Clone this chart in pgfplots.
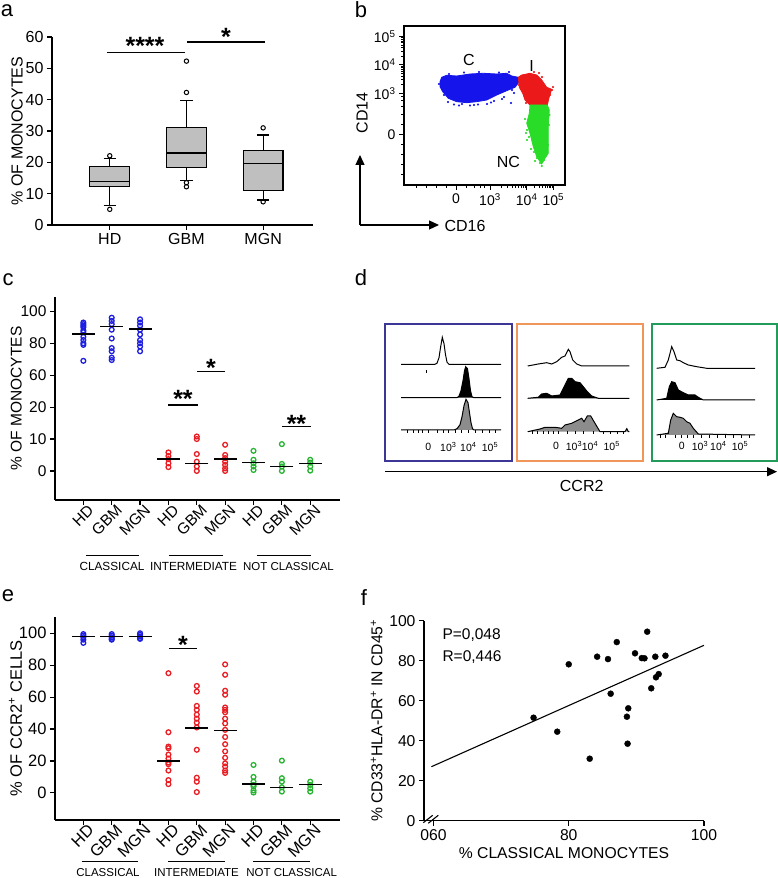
\documentclass[border=0pt]{standalone}
\usepackage{pgfplots}
\pgfplotsset{compat=1.18}
\usepgfplotslibrary{statistics}
\usetikzlibrary{arrows.meta}
\usepackage{fontspec}
\setmainfont{Liberation Sans}
\definecolor{cblue}{RGB}{30,30,225}
\definecolor{cred}{RGB}{232,30,36}
\definecolor{cgreen}{RGB}{40,180,50}
\definecolor{fblue}{RGB}{20,20,235}
\definecolor{fred}{RGB}{235,25,25}
\definecolor{fgreen}{RGB}{40,220,40}
\definecolor{dpurple}{RGB}{60,55,150}
\definecolor{dorange}{RGB}{240,150,90}
\definecolor{dgreen}{RGB}{35,155,90}
\newcommand{\fs}[1]{\fontsize{#1}{#1}\selectfont}
\pgfplotsset{
  base/.style={
    scale only axis, clip=false, anchor=south west,
    /pgf/number format/assume math mode=true,
    axis line style={line width=1.2pt, black},
    tick style={line width=1.2pt, black},
    tick align=outside, major tick length=5pt,
    axis x line*=bottom, axis y line*=left,
  },
  dots/.style={only marks, mark=o, mark size=2.4pt, mark options={line width=1.3pt}},
  med/.style={only marks, mark=-, mark size=11.5pt, mark options={line width=1.5pt, black}},
  hist/.style={line width=1pt, draw=black},
  rotlab/.style={xticklabel style={xshift=10pt, rotate=45, anchor=east}},
}
\begin{document}
\begin{tikzpicture}
\useasboundingbox (0,0) rectangle (778pt,878pt);

% ---------------- panel labels
\node[font=\fs{22}] at (7pt,867pt) {a};
\node[font=\fs{22}] at (361pt,868pt) {b};
\node[font=\fs{22}] at (8pt,598pt) {c};
\node[font=\fs{22}] at (361pt,600pt) {d};
\node[font=\fs{22}] at (8pt,282pt) {e};
\node[font=\fs{22}] at (364pt,280pt) {f};

% ---------------- panel a
\begin{axis}[base, at={(52pt,653pt)}, width=261pt, height=188pt,
  xmin=0.247, xmax=3.65, ymin=0, ymax=60,
  xtick={1,2,3}, xticklabels={HD,GBM,MGN},
  ytick={0,10,...,60},
  font=\fs{16},
  ylabel={\% OF MONOCYTES}, ylabel shift=-4pt,
  boxplot/draw direction=y,
  boxplot/box extend=0.52, boxplot/whisker extend=0.16]
\addplot[boxplot prepared={draw position=1, lower whisker=6.1, lower quartile=12.4,
  median=14, upper quartile=18.6, upper whisker=21.2},
  draw=black, line width=1.2pt, fill=gray!50, mark=o, mark size=2.2pt,
  mark options={fill=white, line width=1pt}] coordinates {(0,5.0) (0,22.1)};
\addplot[boxplot prepared={draw position=2, lower whisker=14.3, lower quartile=18.3,
  median=23, upper quartile=31, upper whisker=39.8},
  draw=black, line width=1.2pt, fill=gray!50, mark=o, mark size=2.2pt,
  mark options={fill=white, line width=1pt}] coordinates {(0,52.3) (0,42.3) (0,13.5) (0,12.2)};
\addplot[boxplot prepared={draw position=3, lower whisker=8.0, lower quartile=10.9,
  median=19.6, upper quartile=23.9, upper whisker=28.7},
  draw=black, line width=1.2pt, fill=gray!50, mark=o, mark size=2.2pt,
  mark options={fill=white, line width=1pt}] coordinates {(0,31) (0,7.4)};
\end{axis}
\draw[line width=1.2pt] (107pt,825.3pt) -- (185pt,825.3pt);
\node[font=\fs{25}\bfseries] at (145pt,831.8pt) {****};
\draw[line width=1.2pt] (187pt,836pt) -- (265pt,836pt);
\node[font=\fs{25}\bfseries] at (226pt,841pt) {*};

% ---------------- panel b
\begin{axis}[scale only axis, anchor=south west, at={(404pt,693pt)},
  width=161pt, height=159pt, xmin=0, xmax=161, ymin=0, ymax=159,
  axis line style={line width=1.5pt},
  tick style={line width=1pt, black}, tick align=outside,
  major tick length=5pt, minor tick length=3pt,
  xtick pos=bottom, ytick pos=left,
  xtick={52,86,122.7,149.3},
  xticklabels={0,10\textsuperscript{3},10\textsuperscript{4},10\textsuperscript{5}},
  ytick={50,91.7,120,148.3},
  yticklabels={0,10\textsuperscript{3},10\textsuperscript{4},10\textsuperscript{5}},
  minor xtick={12,22,32,42,62,70,76,80,97,103.5,108.1,111.7,114.6,117,119.1,121,130.7,135.4,138.7,141.3,143.4,145.2,146.7,148.1},
  minor ytick={10,20,30,40,60,70,78,84,88,100.2,105.2,108.7,111.5,113.7,115.6,117.3,118.7,128.5,133.5,137,139.8,142,143.9,145.6,147},
  font=\fs{14}]
\addplot[fill=fblue, draw=fblue, line width=0.8pt] coordinates {
 (36,103.3) (37.7,107.7) (42.7,109.7) (52.7,109) (66,111) (79.3,111.7) (92.7,111)
 (102.7,111.7) (107.7,109) (114.3,107.7) (115.3,103.3) (111,97.7) (102.7,94.3)
 (92.7,90) (82.7,85) (72.7,83.3) (62.7,82.3) (52.7,83.3) (44.3,86.7) (38.7,93.3)
 (36,98.3) (36,103.3)};
\addplot[only marks, mark=*, mark size=0.9pt, fblue] coordinates {
 (44,83) (50,80.5) (58,81) (66,79.5) (74,80.5) (83,81) (90,84) (98,86) (107,82)
 (110,92) (40,90) (38,96) (35,101) (45,111) (60,112.5) (75,113) (95,112.5) (105,113)
 (112,104) (70,80) (87,82.5) (55,79.5) (100,88) (108,95)};
\addplot[fill=fred, draw=fred, line width=0.8pt] coordinates {
 (114.3,107.7) (117.7,110) (126,111.7) (132.7,110) (137.7,105) (142.7,97.7)
 (147.7,95.7) (145.3,88.3) (143.3,80) (126,80) (121,85) (118.7,91.7) (115.3,97.7)
 (114.3,107.7)};
\addplot[only marks, mark=*, mark size=0.9pt, fred] coordinates {
 (148,95) (146,90) (149,98) (115,100) (119,94) (130,113) (138,108) (141,85) (122,82)
 (117,104) (135,112) (145,93)};
\addplot[fill=fgreen, draw=fgreen, line width=0.8pt] coordinates {
 (126,80) (143.3,80) (145.3,75) (144.3,58.3) (144.3,31.7) (141,26.7) (137.7,21)
 (132.7,28.3) (129.3,38.3) (126,51.7) (122.7,61.7) (125.3,71.7) (126,80)};
\addplot[only marks, mark=*, mark size=0.9pt, fgreen] coordinates {
 (122,52) (123,45) (125,48) (127,36) (130,33) (133,27) (136,22) (137.7,19) (140,25)
 (142,30) (144,40) (145,60) (145.5,70) (128,60) (126,66) (123,55) (121,66) (131,24)};
\node[font=\fs{16}] at (axis cs:65,125) {C};
\node[font=\fs{16}] at (axis cs:127.7,119) {I};
\node[font=\fs{16}] at (axis cs:104.3,22.7) {NC};
\end{axis}
\draw[line width=1.2pt, -{Triangle[length=10pt,width=9pt]}] (360pt,653pt) -- (360pt,723pt);
\draw[line width=1.2pt, -{Triangle[length=10pt,width=9pt]}] (360pt,653pt) -- (439pt,653pt);
\node[font=\fs{16}, anchor=west] at (441pt,652pt) {CD16};
\node[font=\fs{16}, rotate=90] at (362pt,765pt) {CD14};

% ---------------- panel c
\begin{axis}[base, rotlab, at={(55pt,378pt)}, width=285pt, height=203pt,
  xmin=0, xmax=10.05, ymin=-0.91, ymax=5.45,
  y filter/.expression={min(y,20)/10 + max(min(y,60)-20,0)/40 + max(y-60,0)/20},
  ytick={0,1,2,3,4,5}, yticklabels={0,10,20,60,80,100},
  xtick={1,...,9}, xticklabels={HD,GBM,MGN,HD,GBM,MGN,HD,GBM,MGN},
  font=\fs{15.5}, ylabel={\% OF MONOCYTES}, ylabel shift=-8pt]
\addplot[dots, cblue] coordinates {(1,93) (1,92) (1,91) (1,90) (1,88) (1,87) (1,84) (1,82) (1,80) (1,79) (1,69)
 (2,96) (2,94) (2,92) (2,88.5) (2,83) (2,77) (2,75) (2,71) (2,69.5)
 (3,95) (3,93) (3,91) (3,88.5) (3,85.5) (3,82) (3,80) (3,78) (3,75)};
\addplot[dots, cred] coordinates {(4,5.8) (4,4.7) (4,3.7) (4,2.4) (4,1.2)
 (5,10.8) (5,10) (5,5.3) (5,2.9) (5,1.4) (5,0)
 (6,8.2) (6,5) (6,4) (6,2.9) (6,1.9) (6,0.8) (6,0)};
\addplot[dots, cgreen] coordinates {(7,6.3) (7,3.5) (7,2.4) (7,1.4) (7,0.3)
 (8,8.4) (8,2.2) (8,1.4) (8,0)
 (9,3.5) (9,2.6) (9,1.4) (9,0.1)};
\addplot[med] coordinates {(1,85.8) (2,90.6) (3,89) (4,3.8) (5,2.4) (6,3.7) (7,2.6) (8,1.4) (9,2.3)};
\end{axis}
\draw[line width=1.2pt] (168pt,473pt) -- (198pt,473pt);
\node[font=\fs{25}\bfseries] at (183pt,479.5pt) {**};
\draw[line width=1.2pt] (197pt,506.3pt) -- (225pt,506.3pt);
\node[font=\fs{25}\bfseries] at (211pt,510.1pt) {*};
\draw[line width=1.2pt] (282pt,451.3pt) -- (311pt,451.3pt);
\node[font=\fs{25}\bfseries] at (296.5pt,454.5pt) {**};
\draw[line width=1pt] (86pt,322.3pt) -- (139pt,322.3pt);
\draw[line width=1pt] (169pt,322.3pt) -- (223pt,322.3pt);
\draw[line width=1pt] (257pt,322.3pt) -- (311pt,322.3pt);
\node[font=\fs{11.8}] at (112pt,311.3pt) {CLASSICAL};
\node[font=\fs{11.8}] at (193.5pt,311.3pt) {INTERMEDIATE};
\node[font=\fs{11.5}] at (288.5pt,311.3pt) {NOT CLASSICAL};

% ---------------- panel d
\begin{axis}[scale only axis, anchor=south west, at={(385pt,417.3pt)},
  width=126.7pt, height=136.7pt, xmin=0, xmax=126.7, ymin=0, ymax=136.7,
  axis line style={draw=dpurple, line width=2pt}, ticks=none, clip=false]
\addplot[hist] coordinates {(16,96.4) (50,96.4) (52,97.5) (54,103) (55.5,113) (57.3,123.4) (59,117) (60.5,106) (62,98.5) (64,96.4) (116,96.4)};
\addplot[hist, fill=black] coordinates {(16,63) (72,63) (74,64.5) (76,70) (78,80) (79.5,90) (80.7,94) (82.5,92) (84,82) (85.5,70) (87,64) (89,63) (116,63)};
\addplot[hist, fill=black!45] coordinates {(16,30.7) (69,30.7) (72,32) (75,36) (77,44) (79,55) (81,61.4) (83,58) (84.5,48) (86,38) (87.5,32) (89,30.7) (116,30.7)};
\addplot[black, line width=0.8pt] coordinates {(41,88) (41,91)};
\addplot[only marks, mark=|, mark size=1.5pt, black, mark options={line width=0.6pt}] coordinates {(22,29.5) (28,29.5) (33,29.5) (37,29.5) (43,29.5) (52,29.5) (58,29.5) (63,29.5) (70,29.5) (76,29.5) (83,29.5) (90,29.5) (97,29.5) (104,29.5) (110,29.5)};
\node[font=\fs{10.5}] at (axis cs:43.3,14) {0};
\node[font=\fs{10.5}] at (axis cs:63.3,14) {10\textsuperscript{3}};
\node[font=\fs{10.5}] at (axis cs:83.3,14) {10\textsuperscript{4}};
\node[font=\fs{10.5}] at (axis cs:105,14) {10\textsuperscript{5}};
\end{axis}
\begin{axis}[scale only axis, anchor=south west, at={(517.3pt,417.3pt)},
  width=126pt, height=136.7pt, xmin=0, xmax=126, ymin=0, ymax=136.7,
  axis line style={draw=dorange, line width=2pt}, ticks=none, clip=false]
\addplot[hist] coordinates {(10.4,94.7) (21,96.7) (29.4,98) (34.4,96.7) (39.4,99) (44.4,103.4) (47.7,104.7) (51,111.4) (52.7,109) (55.4,100.7) (59.4,96.7) (64.4,94.7) (112,94.7)};
\addplot[hist, fill=black] coordinates {(10.4,62.4) (21,63.4) (24.4,66.7) (29.4,67.4) (34.4,64.7) (42.7,65.7) (47.7,75.7) (51,82.4) (54.4,82.4) (57.7,79) (62.7,78) (66,74) (70,69) (74.4,64.7) (81,62.4) (112,62.4)};
\addplot[hist, fill=black!45] coordinates {(10.4,29) (22.7,31.7) (27.7,33.4) (37.7,33.4) (44.4,32.4) (47.7,35.7) (54.4,37.4) (61,40.7) (64.4,42.4) (66.7,39) (70,44.7) (73.4,44.7) (77.7,37.4) (82.7,29) (107.7,29) (109.5,32) (111,29) (112,29)};
\addplot[only marks, mark=|, mark size=1.5pt, black, mark options={line width=0.6pt}] coordinates {(15,27.8) (20,27.8) (26,27.8) (31,27.8) (36,27.8) (41,27.8) (50,27.8) (58,27.8) (66,27.8) (76,27.8) (86,27.8) (93,27.8) (100,27.8) (106,27.8)};
\node[font=\fs{10.5}] at (axis cs:38.7,14.7) {0};
\node[font=\fs{10.5}] at (axis cs:56.7,14.7) {10\textsuperscript{3}};
\node[font=\fs{10.5}] at (axis cs:72.7,14.7) {10\textsuperscript{4}};
\node[font=\fs{10.5}] at (axis cs:94.4,14.7) {10\textsuperscript{5}};
\end{axis}
\begin{axis}[scale only axis, anchor=south west, at={(651.7pt,417.3pt)},
  width=124.8pt, height=136.7pt, xmin=0, xmax=124.8, ymin=0, ymax=136.7,
  axis line style={draw=dgreen, line width=2pt}, ticks=none, clip=false]
\addplot[hist] coordinates {(5,92.4) (13.3,93.4) (16.6,100.7) (20,114) (22.3,109) (25,100.7) (28.3,100) (31.6,98) (36.6,95.7) (45,94) (55,92.4) (103.3,92.4)};
\addplot[hist, fill=black] coordinates {(5,60.7) (15,62.4) (17.6,74) (20,79) (23.3,78) (26.6,70.7) (31.6,68) (36.6,65.7) (43.3,65.7) (46.6,63.4) (51.6,60.7) (103.3,60.7)};
\addplot[hist, fill=black!45] coordinates {(5,25.7) (16.6,27.4) (19,40.7) (21.6,47.4) (25,44) (28.3,43.4) (31.6,42.4) (35,39) (38.3,37.4) (41.6,32.4) (46.6,26.7) (103.3,25.7)};
\addplot[only marks, mark=|, mark size=1.5pt, black, mark options={line width=0.6pt}] coordinates {(9,24.5) (14,24.5) (24,24.5) (30,24.5) (36,24.5) (42,24.5) (50,24.5) (58,24.5) (66,24.5) (74,24.5) (82,24.5) (90,24.5) (98,24.5)};
\node[font=\fs{10.5}] at (axis cs:30,14.7) {0};
\node[font=\fs{10.5}] at (axis cs:48.3,14.7) {10\textsuperscript{3}};
\node[font=\fs{10.5}] at (axis cs:66.6,14.7) {10\textsuperscript{4}};
\node[font=\fs{10.5}] at (axis cs:88.3,14.7) {10\textsuperscript{5}};
\end{axis}
\draw[line width=1.2pt, -{Triangle[length=10pt,width=9pt]}] (385pt,406.3pt) -- (777pt,406.3pt);
\node[font=\fs{16}] at (581.7pt,392pt) {CCR2};

% ---------------- panel e
\begin{axis}[base, rotlab, at={(55pt,58pt)}, width=285pt, height=203.3pt,
  xmin=0, xmax=10.05, ymin=-17, ymax=110.4,
  ytick={0,20,...,100},
  xtick={1,...,9}, xticklabels={HD,GBM,MGN,HD,GBM,MGN,HD,GBM,MGN},
  font=\fs{16.5}, ylabel={\% OF CCR2\textsuperscript{+} CELLS}, ylabel shift=-10pt]
\addplot[dots, cblue] coordinates {(1,99.5) (1,98.5) (1,97.5) (1,96) (1,94)
 (2,99.5) (2,98.5) (2,97.5) (2,96.5) (2,96)
 (3,100) (3,99) (3,98) (3,97) (3,96.5)};
\addplot[dots, cred] coordinates {(4,75) (4,38) (4,29) (4,28) (4,24) (4,21.5) (4,19) (4,18) (4,14) (4,8) (4,5.5)
 (5,67) (5,63.5) (5,54.5) (5,52) (5,49) (5,46.5) (5,44) (5,41) (5,27) (5,9.5) (5,7) (5,0.5)
 (6,80.5) (6,74) (6,64) (6,61.5) (6,53.5) (6,52) (6,50.5) (6,46.5) (6,43.5) (6,39.5) (6,35) (6,30.5) (6,26) (6,22) (6,18.5) (6,16.5) (6,14) (6,12.5)};
\addplot[dots, cgreen] coordinates {(7,17.5) (7,10) (7,7) (7,5) (7,4) (7,1.5) (7,0.2)
 (8,20.2) (8,9.2) (8,7) (8,3.5) (8,0.8)
 (9,7) (9,5) (9,2.9) (9,0.8)};
\addplot[med] coordinates {(1,98) (2,98) (3,98) (4,20) (5,40.8) (6,39) (7,5.6) (8,3.3) (9,5.4)};
\end{axis}
\draw[line width=1.2pt] (169pt,229.7pt) -- (197pt,229.7pt);
\node[font=\fs{25}\bfseries] at (183pt,232.8pt) {*};
\draw[line width=1pt] (81.7pt,16.3pt) -- (138.3pt,16.3pt);
\draw[line width=1pt] (168.3pt,16.3pt) -- (225pt,16.3pt);
\draw[line width=1pt] (253.3pt,16.3pt) -- (310pt,16.3pt);
\node[font=\fs{11.5}] at (108pt,5.5pt) {CLASSICAL};
\node[font=\fs{11.5}] at (196.5pt,5.5pt) {INTERMEDIATE};
\node[font=\fs{11.5}] at (291.7pt,5.5pt) {NOT CLASSICAL};

% ---------------- panel f
\begin{axis}[base, at={(424pt,57.3pt)}, width=280pt, height=200pt,
  xmin=58.6, xmax=100, ymin=0, ymax=100,
  xtick={60,80,100}, xticklabels={060,80,100},
  ytick={0,20,...,100},
  font=\fs{15.7},
  xlabel={\% CLASSICAL MONOCYTES},
  ylabel={\% CD33\textsuperscript{+}HLA-DR\textsuperscript{+} IN CD45\textsuperscript{+}}]
\addplot[only marks, mark=*, mark size=3pt, black] coordinates {
 (74.8,51.5) (78.3,44.5) (80.0,78.2) (83.1,31) (84.2,82) (85.8,80.8) (86.2,63.5)
 (87.1,89.3) (88.6,52) (88.7,38.5) (88.8,56.2) (89.8,83.7) (90.8,81.3) (91.2,81.2)
 (91.6,94.5) (92.2,66.2) (92.8,82) (92.9,71.7) (93.3,73.3) (94.3,82.5)};
\addplot[black, line width=1.1pt] coordinates {(59.7,27) (100,87.7)};
\end{axis}
\draw[line width=1.1pt] (423.3pt,55.3pt) -- (432.7pt,62.7pt);
\draw[line width=1.1pt] (428.3pt,54.7pt) -- (438.3pt,62.7pt);
\node[font=\fs{15.5}, anchor=west] at (439pt,243pt) {P=0,048};
\node[font=\fs{15.5}, anchor=west] at (439pt,221pt) {R=0,446};
\end{tikzpicture}
\end{document}
